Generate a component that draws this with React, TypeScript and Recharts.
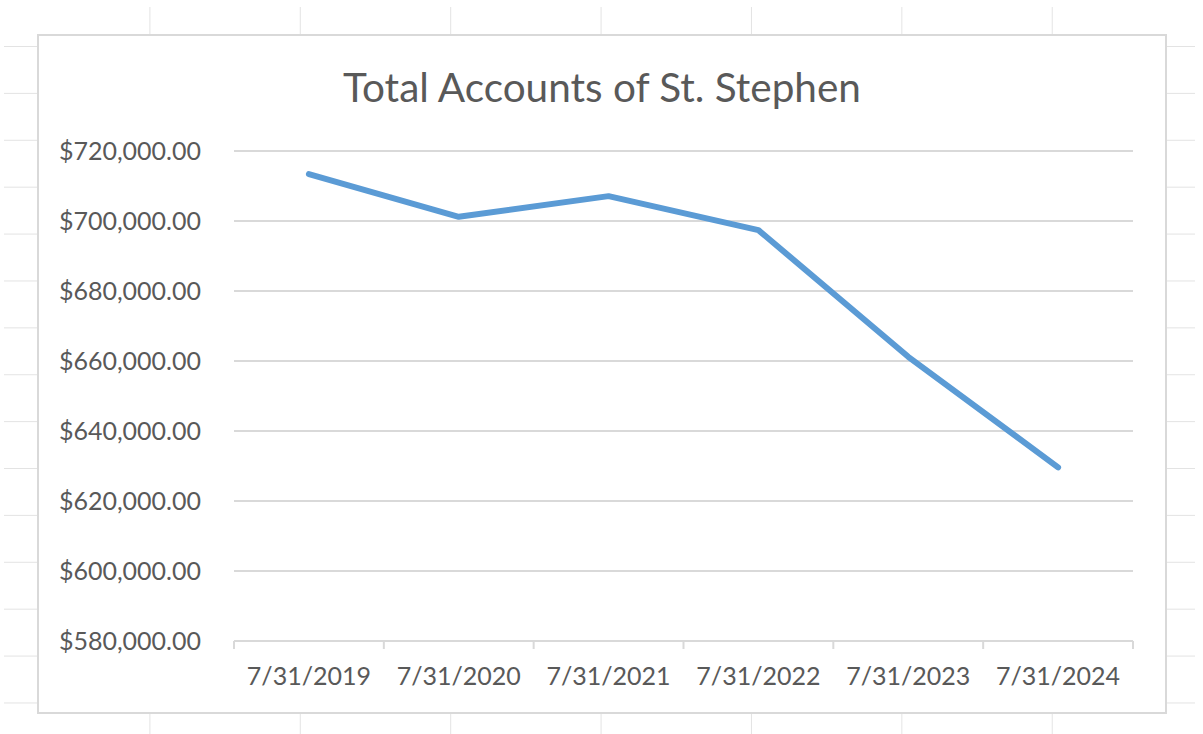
import { LineChart, Line, XAxis, YAxis, CartesianGrid } from "recharts";

const dates = ["7/31/2019", "7/31/2020", "7/31/2021", "7/31/2022", "7/31/2023", "7/31/2024"];
const totals = [713400, 701200, 707100, 697400, 661200, 629600];
const yTicks = [580000, 600000, 620000, 640000, 660000, 680000, 700000, 720000];

// points sit in the middle of each category slot; tick marks go on the slot edges
const data = dates.map((d, i) => ({ date: d, total: totals[i], pos: i + 0.5 }));
const xTicks = [0, ...data.flatMap((d) => [d.pos, d.pos + 0.5])];

const FONT = "Lato, 'Open Sans', sans-serif";
const TEXT = "#595959";
const GRID = "#d9d9d9";

const money = (v: number) =>
  "$" + v.toLocaleString("en-US", { minimumFractionDigits: 2, maximumFractionDigits: 2 });

function DateTick(props: any) {
  const { x, y, payload } = props;
  const v = payload.value;
  if (Number.isInteger(v)) {
    return <line x1={x} x2={x} y1={y} y2={y + 8} stroke={GRID} strokeWidth={2} />;
  }
  return (
    <text x={x} y={y + 26} dy="0.71em" textAnchor="middle" fill={TEXT} fontSize={25} fontFamily={FONT}>
      {dates[Math.floor(v)]}
    </text>
  );
}

export default function App() {
  return (
    <div
      style={{
        position: "fixed",
        left: 0,
        top: 0,
        width: 1203,
        height: 734,
        background: "#fff",
        overflow: "hidden",
      }}
    >
      {/* spreadsheet cells behind the chart */}
      <div
        style={{
          position: "absolute",
          left: 4,
          top: 7,
          width: 1191,
          height: 727,
          backgroundImage:
            "linear-gradient(to right, #e3e3e3 1px, transparent 1px), linear-gradient(to bottom, #e3e3e3 1px, transparent 1px)",
          backgroundSize: "150.4px 46.9px",
          backgroundPosition: "-5px 39px",
        }}
      />
      <div
        style={{
          position: "absolute",
          left: 37,
          top: 34,
          width: 1126,
          height: 676,
          border: `2px solid ${GRID}`,
          background: "#fff",
        }}
      >
        <div
          style={{
            position: "absolute",
            left: 0,
            right: 0,
            top: 27,
            textAlign: "center",
            fontFamily: FONT,
            fontSize: 40.5,
            color: TEXT,
            lineHeight: "48px",
          }}
        >
          Total Accounts of St. Stephen
        </div>
        <LineChart width={1126} height={676} data={data} margin={{ top: 115, right: 32, bottom: 0, left: 0 }}>
          <CartesianGrid stroke={GRID} strokeWidth={2} vertical={false} />
          <XAxis
            dataKey="pos"
            type="number"
            domain={[0, dates.length]}
            ticks={xTicks}
            interval={0}
            allowDataOverflow
            tick={DateTick}
            tickLine={false}
            tickSize={0}
            tickMargin={0}
            height={71}
            stroke={GRID}
            strokeWidth={2}
          />
          <YAxis
            domain={[580000, 720000]}
            ticks={yTicks}
            tickFormatter={money}
            axisLine={false}
            tickLine={false}
            tickSize={0}
            tickMargin={33}
            width={195}
            tick={{ fill: TEXT, fontSize: 25, fontFamily: FONT }}
          />
          <Line
            type="linear"
            dataKey="total"
            stroke="#5b9bd5"
            strokeWidth={6}
            strokeLinecap="round"
            strokeLinejoin="round"
            dot={false}
            isAnimationActive={false}
          />
        </LineChart>
      </div>
    </div>
  );
}
